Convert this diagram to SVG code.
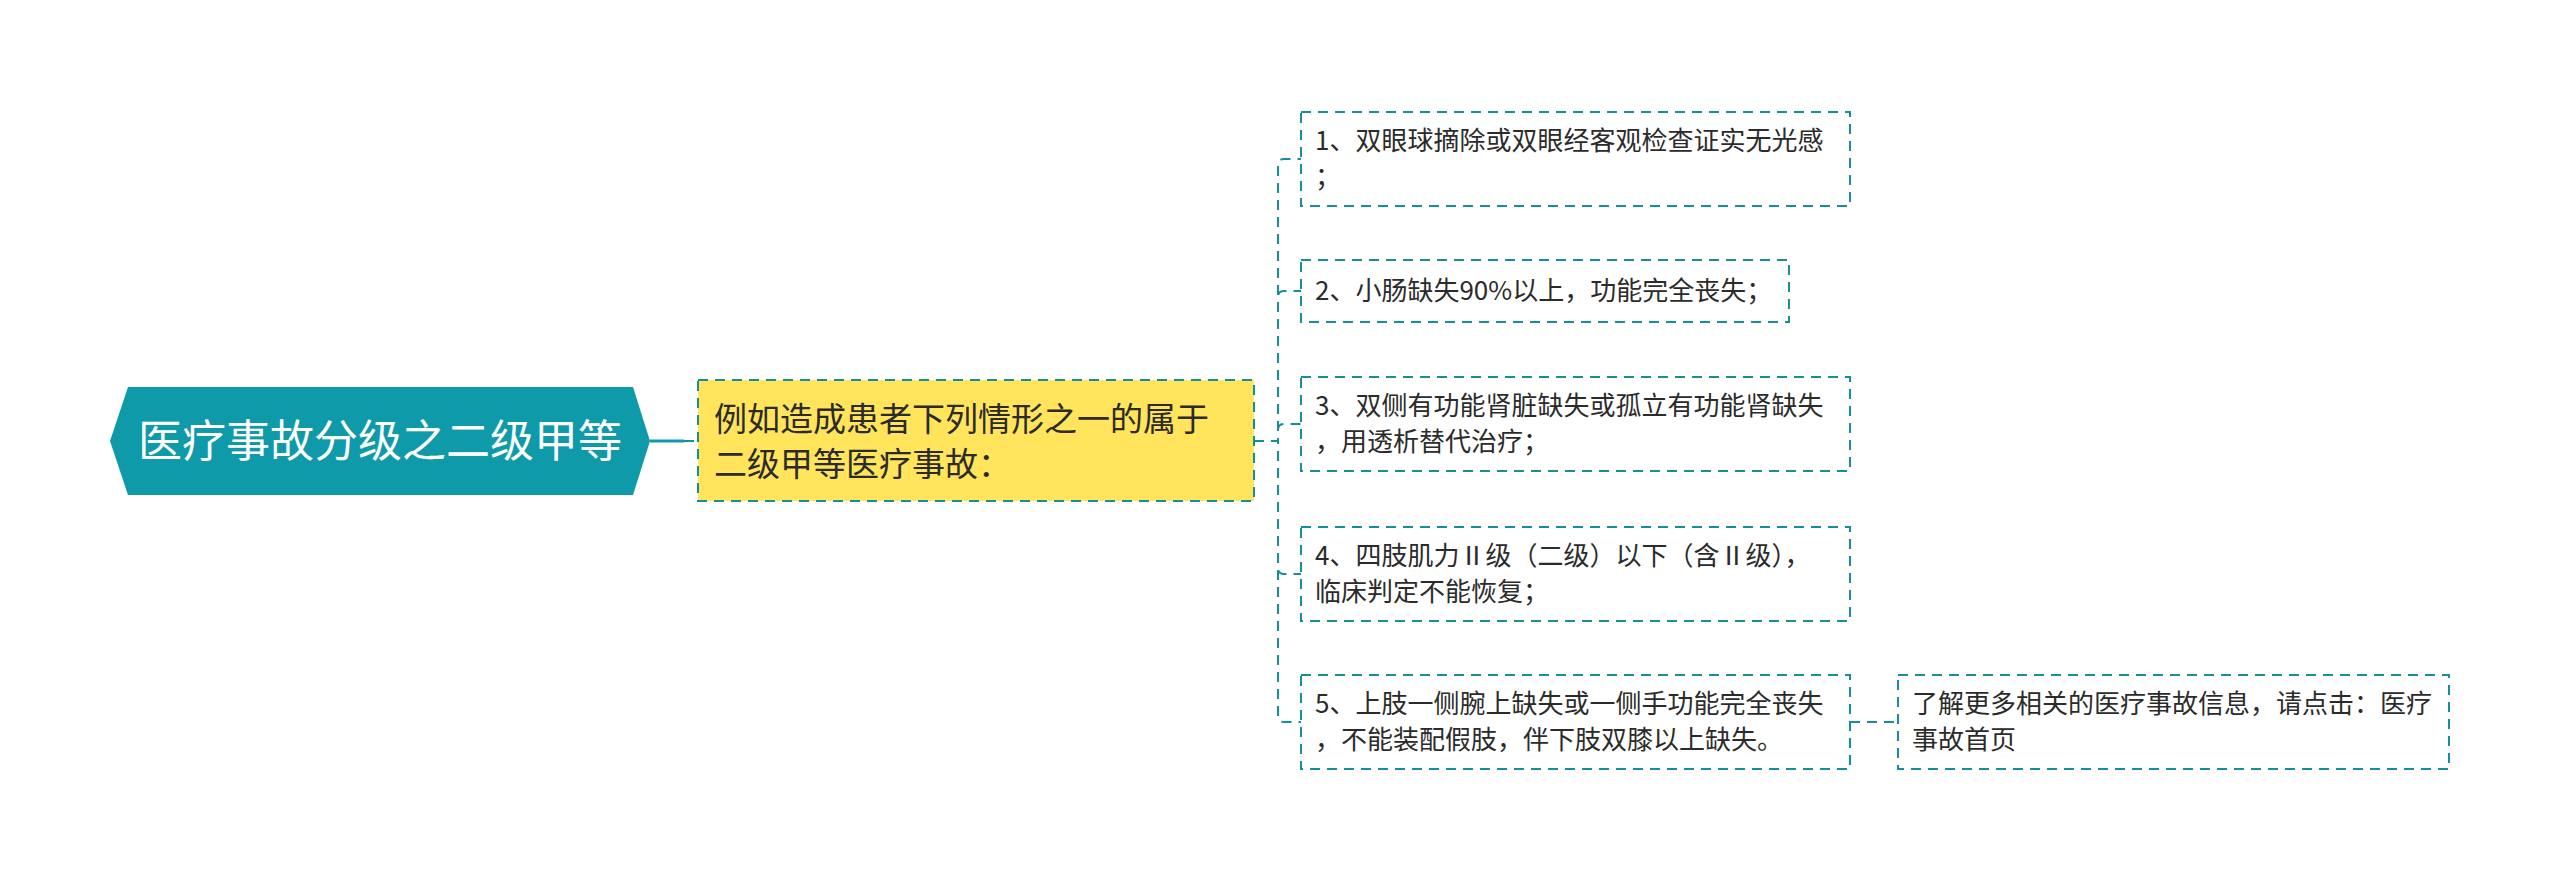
<svg xmlns="http://www.w3.org/2000/svg" width="2560" height="881" viewBox="0 0 2560 881">
<style>
.dash{fill:none;stroke:#168f9b;stroke-width:2;stroke-dasharray:10 7}
.box{fill:#ffffff;stroke:#168f9b;stroke-width:2;stroke-dasharray:10 7}
.t{font-family:"Noto Sans CJK SC","Noto Sans",sans-serif;fill:#2b2b2b}
.c{font-size:26px}
</style>
<rect width="2560" height="881" fill="#ffffff"/>
<g id="connectors">
<line x1="650" y1="441" x2="684" y2="441" stroke="#0e9aa8" stroke-width="3"/>
<line class="dash" x1="684" y1="441" x2="698" y2="441"/>
<path class="dash" d="M1254 441 H1278 V165 Q1278 159 1284 159 H1301"/>
<path class="dash" d="M1254 441 H1278 V297 Q1278 291 1284 291 H1301"/>
<path class="dash" d="M1254 441 H1278 V430 Q1278 424 1284 424 H1301"/>
<path class="dash" d="M1254 441 H1278 V568 Q1278 574 1284 574 H1301"/>
<path class="dash" d="M1254 441 H1278 V716 Q1278 722 1284 722 H1301"/>
<line class="dash" x1="1850" y1="722" x2="1898" y2="722"/>
</g>
<g id="root">
<polygon points="110,441 128,387 633,387 650,441 633,495 128,495" fill="#0e9aa8"/>
<text x="380" y="457" text-anchor="middle" class="t" style="font-size:44px;fill:#ffffff">医疗事故分级之二级甲等</text>
</g>
<g id="main">
<rect x="698" y="380" width="556" height="121" fill="#ffe45c" stroke="#168f9b" stroke-width="2" stroke-dasharray="10 7"/>
<text class="t" style="font-size:33px" x="714"><tspan x="714" y="431">例如造成患者下列情形之一的属于</tspan><tspan x="714" y="476">二级甲等医疗事故：</tspan></text>
</g>
<g id="n1">
<rect class="box" x="1301" y="112" width="549" height="94"/>
<text class="t c"><tspan x="1315" y="150">1、双眼球摘除或双眼经客观检查证实无光感</tspan><tspan x="1315" y="186">；</tspan></text>
</g>
<g id="n2">
<rect class="box" x="1301" y="260" width="488" height="62"/>
<text class="t c" x="1315" y="300">2、小肠缺失90%以上，功能完全丧失；</text>
</g>
<g id="n3">
<rect class="box" x="1301" y="377" width="549" height="94"/>
<text class="t c"><tspan x="1315" y="415">3、双侧有功能肾脏缺失或孤立有功能肾缺失</tspan><tspan x="1315" y="451">，用透析替代治疗；</tspan></text>
</g>
<g id="n4">
<rect class="box" x="1301" y="527" width="549" height="94"/>
<text class="t c"><tspan x="1315" y="565">4、四肢肌力Ⅱ级（二级）以下（含Ⅱ级），</tspan><tspan x="1315" y="601">临床判定不能恢复；</tspan></text>
</g>
<g id="n5">
<rect class="box" x="1301" y="675" width="549" height="94"/>
<text class="t c"><tspan x="1315" y="713">5、上肢一侧腕上缺失或一侧手功能完全丧失</tspan><tspan x="1315" y="749">，不能装配假肢，伴下肢双膝以上缺失。</tspan></text>
</g>
<g id="n6">
<rect class="box" x="1898" y="675" width="551" height="94"/>
<text class="t c"><tspan x="1912" y="713">了解更多相关的医疗事故信息，请点击：医疗</tspan><tspan x="1912" y="749">事故首页</tspan></text>
</g>
</svg>
